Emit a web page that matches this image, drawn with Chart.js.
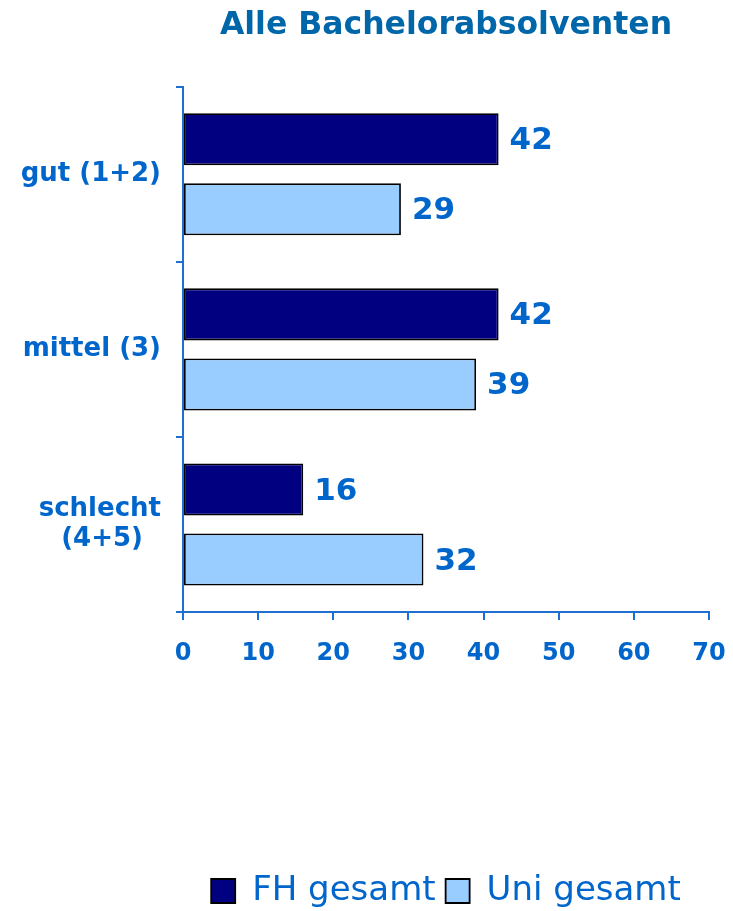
<!DOCTYPE html>
<html>
<head>
<meta charset="utf-8">
<script src="https://cdn.jsdelivr.net/npm/chart.js@4"></script>
<style>
    body { margin: 0; background: #fff; }
    .chart { width: 733px; height: 911px; }
</style>
</head>
<body>
<div class="chart"><canvas class="chart__chart"></canvas></div>
<script>
const ctx = document.querySelector(".chart__chart");

// trailing spaces keep "(4+5)" roughly centred under "schlecht"
const categories = ["gut (1+2)", "mittel (3)", ["schlecht", "(4+5)\u00a0\u00a0"]];
const fhValues = [42, 42, 16];
const uniValues = [29, 39, 32];
const seriesNames = ["FH gesamt", "Uni gesamt"];
const xTicks = [0, 10, 20, 30, 40, 50, 60, 70];

const blue = "#0066CC";
const axisBlue = "#1E6FD0";
const font = "DejaVu Sans";

// value labels at the end of each bar
const valueLabels = {
    id: "valueLabels",
    afterDatasetsDraw: (chart) => {
        const { ctx } = chart;
        ctx.save();
        ctx.font = "bold 31px " + font;
        ctx.fillStyle = blue;
        ctx.textAlign = "left";
        ctx.textBaseline = "middle";
        chart.data.datasets.forEach((ds, i) => {
            chart.getDatasetMeta(i).data.forEach((bar, j) => {
                ctx.fillText(ds.data[j], bar.x + 11, bar.y + 2);
            });
        });
        ctx.restore();
    },
};

new Chart(ctx, {
    type: "bar",
    data: {
        labels: categories,
        datasets: [
            {
                label: seriesNames[0],
                data: fhValues,
                backgroundColor: "#000080",
                borderColor: "#000000",
                borderWidth: 1.8,
                borderSkipped: false,
            },
            {
                label: seriesNames[1],
                data: uniValues,
                backgroundColor: "#99CCFF",
                borderColor: "#000000",
                borderWidth: 1.8,
                borderSkipped: false,
            },
        ],
    },
    options: {
        indexAxis: "y",
        responsive: true,
        maintainAspectRatio: false,
        animation: false,
        categoryPercentage: 0.8,
        barPercentage: 0.743,
        layout: {
            padding: { left: 0, right: 24, top: 0, bottom: -7 },
        },
        plugins: {
            title: {
                display: true,
                text: "Alle Bachelorabsolventen",
                color: "#0066AA",
                fullSize: false,
                font: { family: font, size: 31.5, weight: "bold" },
                padding: { top: 7, bottom: 42 },
            },
            legend: {
                position: "bottom",
                fullSize: false,
                labels: {
                    color: blue,
                    font: { family: font, size: 34 },
                    boxWidth: 24,
                    boxHeight: 24,
                    padding: 10,
                },
            },
            tooltip: { enabled: false },
        },
        scales: {
            x: {
                min: 0,
                max: 70,
                afterBuildTicks: (scale) => {
                    scale.ticks = xTicks.map((v) => ({ value: v }));
                },
                afterFit: (scale) => {
                    scale.height = 252;
                    scale.paddingLeft = 0;
                    scale.paddingRight = 0;
                },
                border: { color: axisBlue, width: 2 },
                grid: {
                    drawOnChartArea: false,
                    drawTicks: true,
                    tickLength: 8,
                    color: axisBlue,
                    lineWidth: 2,
                },
                ticks: {
                    color: blue,
                    padding: 19,
                    font: { family: font, size: 24, weight: "bold" },
                },
            },
            y: {
                afterFit: (scale) => {
                    scale.width = 183;
                },
                border: { color: axisBlue, width: 2 },
                grid: {
                    drawOnChartArea: false,
                    drawTicks: true,
                    tickLength: 7,
                    color: axisBlue,
                    lineWidth: 2,
                },
                ticks: {
                    color: blue,
                    padding: 15,
                    font: { family: font, size: 26, weight: "bold", lineHeight: 1.15 },
                },
            },
        },
    },
    plugins: [valueLabels],
});
</script>
</body>
</html>
